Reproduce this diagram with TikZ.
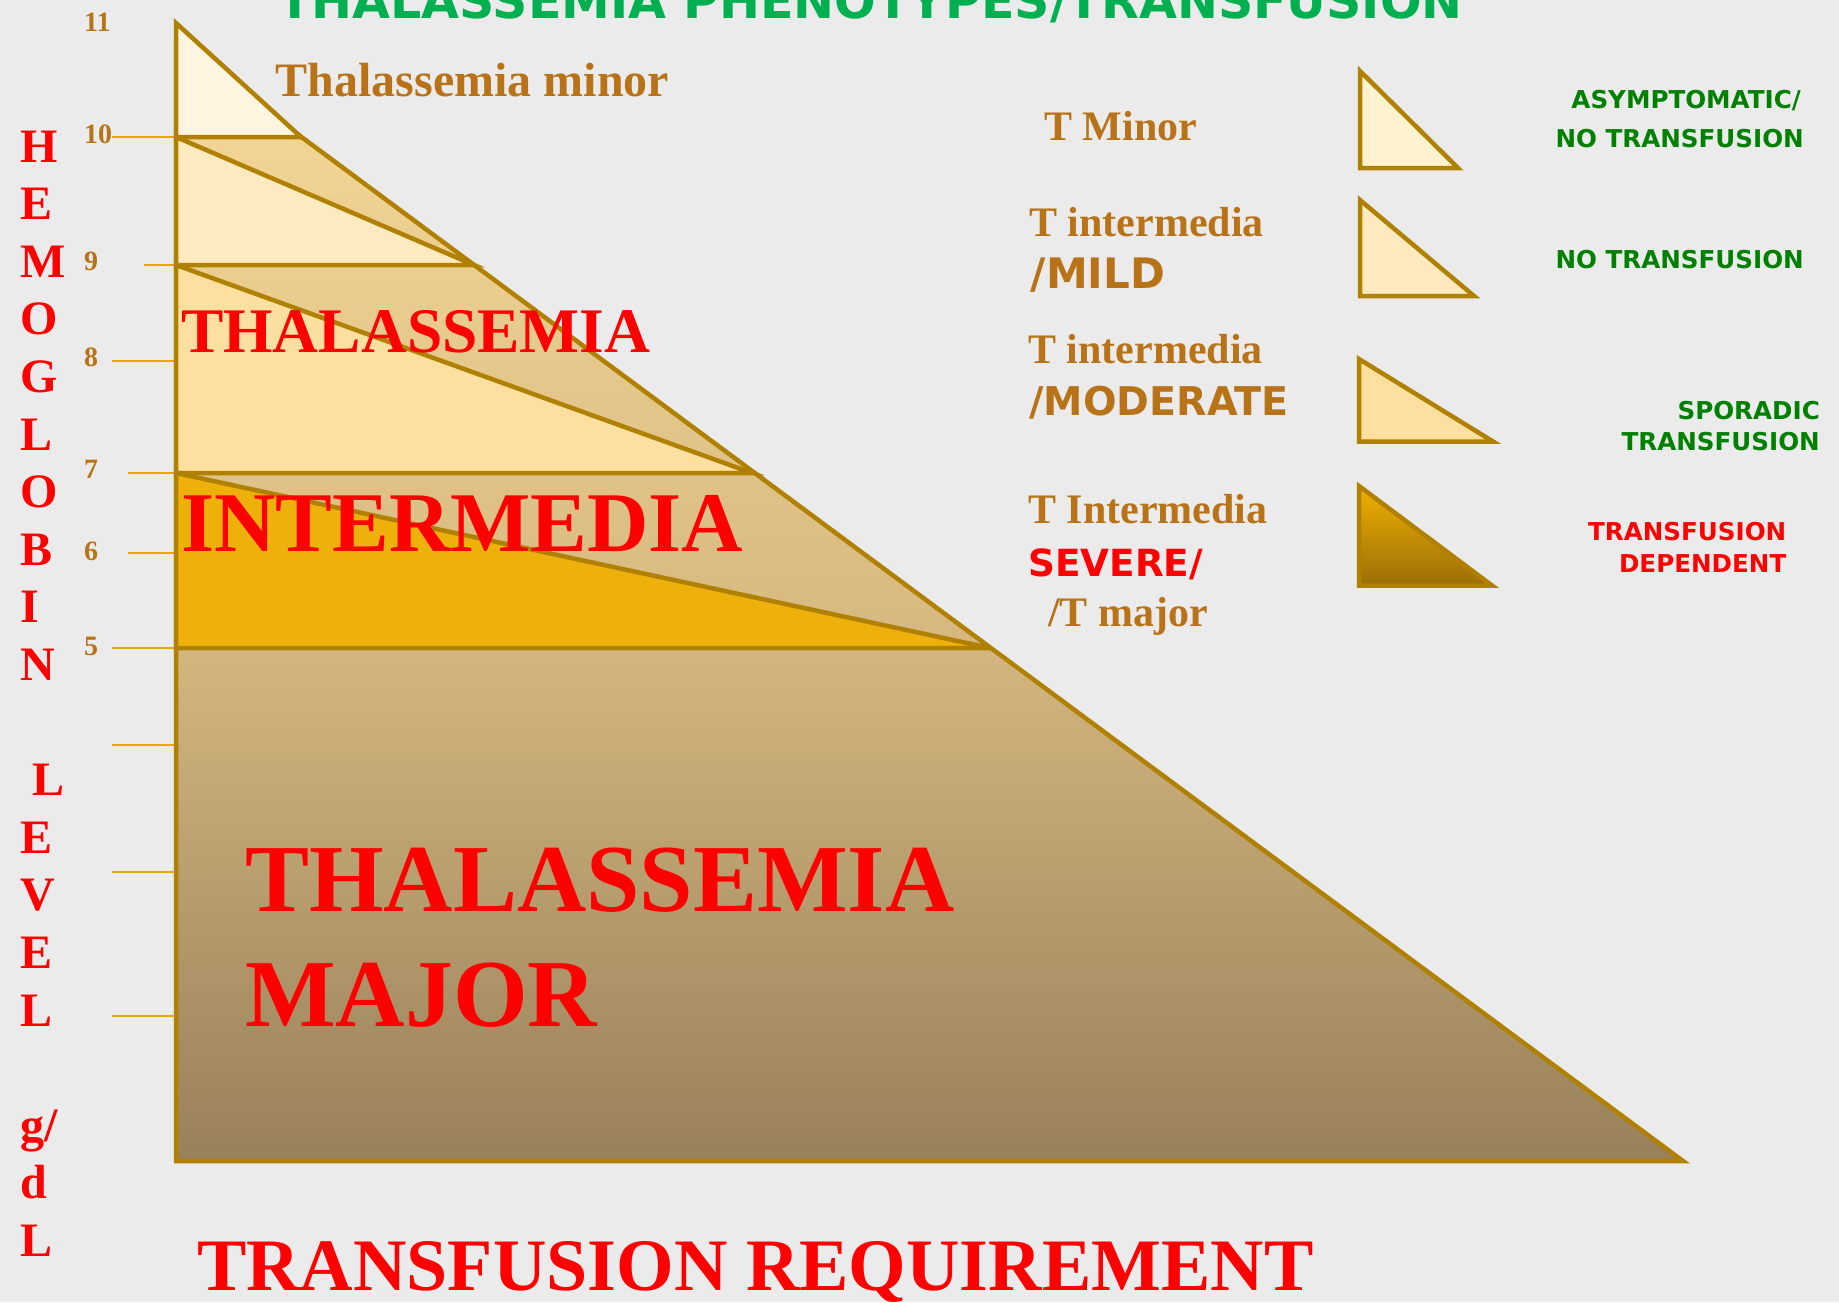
\documentclass[tikz,border=0pt]{standalone}
\usepackage{fontspec}
\setmainfont{Liberation Serif}
\newfontfamily\dvsans{DejaVu Sans}
\newcommand\myfs[1]{\fontsize{#1}{#1}\selectfont}
\definecolor{bg}{HTML}{EBEBEB}
\definecolor{edgec}{HTML}{B08000}
\definecolor{tickc}{HTML}{E8A800}
\definecolor{brownt}{HTML}{B87318}
\definecolor{redt}{HTML}{FF0000}
\definecolor{greent}{HTML}{008000}
\definecolor{titleg}{HTML}{00B050}
\definecolor{fA}{HTML}{FFF5E1}
\definecolor{fB}{HTML}{FEEAC0}
\definecolor{fC}{HTML}{FDE0A0}
\definecolor{fD}{HTML}{EEB00B}
\definecolor{gTop}{HTML}{F6DA98}
\definecolor{gMid}{HTML}{D9BB82}
\definecolor{gBot}{HTML}{98805A}
\definecolor{lg1}{HTML}{FFF2CF}
\definecolor{lg2}{HTML}{FFEAC0}
\definecolor{lg3}{HTML}{FDDFA0}
\definecolor{lgTop}{HTML}{F0B000}
\definecolor{lgBot}{HTML}{9A6E08}
\tikzset{
  edge/.style={draw=edgec, line width=4.5pt, line join=miter, miter limit=6},
  tickline/.style={draw=tickc, line width=2.5pt},
  txt/.style={inner sep=0pt, anchor=base west},
  rtxt/.style={inner sep=0pt, anchor=base east},
  serb/.style={txt, font=\bfseries\myfs{#1}},
  sansb/.style={txt, font=\dvsans\bfseries\myfs{#1}},
  rsansb/.style={rtxt, font=\dvsans\bfseries\myfs{#1}},
  axisl/.style={txt, font=\bfseries\myfs{48}, text=redt},
  ticklab/.style={txt, font=\bfseries\myfs{28}, text=brownt}
}
\begin{document}
\begin{tikzpicture}[x=1pt,y=-1pt]
\useasboundingbox (0,0) rectangle (1839,1302);
\fill[bg] (0,0) rectangle (1839,1302);

% title (partly cut off at the top, as in the reference)
\node[sansb=49, text=titleg] (title) at (278,18) {THALASSEMIA PHENOTYPES/TRANSFUSION};

% ticks
\draw[tickline] (112,137) -- (176,137);
\draw[tickline] (144,265) -- (176,265);
\draw[tickline] (112,361) -- (176,361);
\draw[tickline] (128,473) -- (176,473);
\draw[tickline] (128,553) -- (176,553);
\draw[tickline] (112,648) -- (176,648);
\draw[tickline] (112,745) -- (176,745);
\draw[tickline] (112,872) -- (176,872);
\draw[tickline] (112,1016) -- (176,1016);

% big triangle with gradient
\path[edge, top color=gTop, bottom color=gBot, middle color=gMid]
  (176,44) -- (176,1161) -- (1683,1161) -- cycle;
% stacked triangles
\path[edge, fill=fA] (176,23) -- (176,137) -- (301,137) -- cycle;
\path[edge, fill=fB] (176,137) -- (176,265) -- (474,265) -- cycle;
\path[edge, fill=fC] (176,265) -- (176,473) -- (752,473) -- cycle;
\path[edge, fill=fD] (176,473) -- (176,648) -- (990,648) -- cycle;

% tick labels
\node[ticklab] (l11) at (84,31) {11};
\node[ticklab] (l10) at (84,143) {10};
\node[ticklab] (l9) at (84,270.5) {9};
\node[ticklab] (l8) at (84,366.5) {8};
\node[ticklab] (l7) at (84,478) {7};
\node[ticklab] (l6) at (84,560) {6};
\node[ticklab] (l5) at (84,655) {5};

% vertical axis title
\foreach \i/\t in {0/H,1/E,2/M,3/O,4/G,5/L,6/O,7/B,8/I,9/N,12/E,13/V,14/E,15/L,17/{g/},18/d,19/L}
  \node[axisl] (ax\i) at (20,{162+57.6*\i}) {\t};
\node[axisl] (ax11) at (32,{162+57.6*11}) {L};

% labels inside the diagram
\node[serb=48, text=brownt] (tminor) at (275.5,96.7) {Thalassemia minor};
\node[serb=63.5, text=redt] (thal1) at (181,352.7) {THALASSEMIA};
\node[serb=85, text=redt] (interm) at (181,551.7) {INTERMEDIA};
\node[serb=96, text=redt] (thal2) at (245,911) {THALASSEMIA};
\node[serb=96, text=redt] (major) at (245,1026) {MAJOR};
\node[serb=74, text=redt] (req) at (197,1290.7) {TRANSFUSION REQUIREMENT};

% legend triangles
\path[edge, fill=lg1] (1360,71) -- (1360,168) -- (1458,168) -- cycle;
\path[edge, fill=lg2] (1360,200) -- (1360,296) -- (1474,296) -- cycle;
\path[edge, fill=lg3] (1359,359) -- (1359,441.5) -- (1493,441.5) -- cycle;
\path[edge, top color=lgTop, bottom color=lgBot] (1359,486) -- (1359,585.5) -- (1492,585.5) -- cycle;

% legend left labels
\node[serb=42, text=brownt] (lg1a) at (1044,140) {T Minor};
\node[serb=42, text=brownt] (lg2a) at (1029,236) {T intermedia};
\node[sansb=42, text=brownt] (lg2b) at (1030.6,288) {/MILD};
\node[serb=42, text=brownt] (lg3a) at (1028,363.3) {T intermedia};
\node[sansb=39.6, text=brownt] (lg3b) at (1029,415) {/MODERATE};
\node[serb=42, text=brownt] (lg4a) at (1028,523.3) {T Intermedia};
\node[sansb=37.4, text=redt] (lg4b) at (1028,576) {SEVERE/};
\node[serb=42, text=brownt] (lg4c) at (1048,626.7) {/T major};

% legend right labels
\node[rsansb=24.6, text=greent] (r1a) at (1801,108) {ASYMPTOMATIC/};
\node[rsansb=24.6, text=greent] (r1b) at (1804,147) {NO TRANSFUSION};
\node[rsansb=24.6, text=greent] (r2a) at (1804,268) {NO TRANSFUSION};
\node[rsansb=24.6, text=greent] (r3a) at (1820,419.3) {SPORADIC};
\node[rsansb=24.6, text=greent] (r3b) at (1820,450.7) {TRANSFUSION};
\node[rsansb=24.6, text=redt] (r4a) at (1786.5,540.7) {TRANSFUSION};
\node[rsansb=24.6, text=redt] (r4b) at (1786.5,572.7) {DEPENDENT};
\end{tikzpicture}
\end{document}
